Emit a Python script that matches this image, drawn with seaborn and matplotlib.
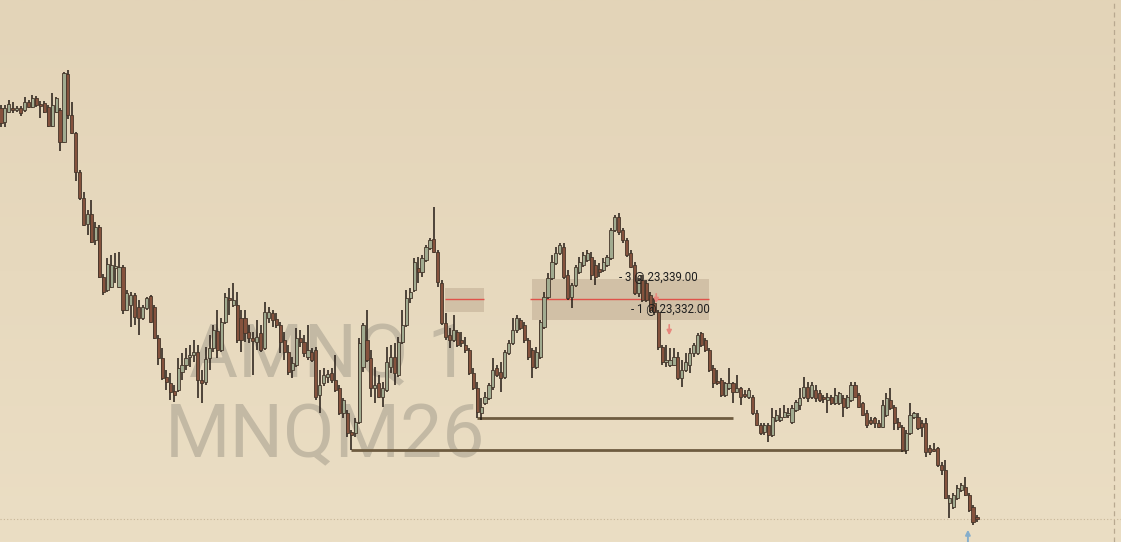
import numpy as np
import pandas as pd
import seaborn as sns
import matplotlib.pyplot as plt
from matplotlib.colors import LinearSegmentedColormap

# 1 minute bars, MNQ
opens = [23373.4, 23370.6, 23372.6, 23373.4, 23373.0, 23373.4, 23373.0, 23374.6, 23373.6, 23375.4,
         23374.2, 23374.4, 23373.6, 23369.8, 23372.6, 23373.0, 23366.6, 23380.2, 23372.0, 23368.4,
         23360.6, 23355.4, 23350.2, 23352.2, 23347.0, 23349.6, 23339.6, 23337.0, 23337.6, 23341.4,
         23337.6, 23341.6, 23333.0, 23334.0, 23336.0, 23333.6, 23331.4, 23333.4, 23335.8, 23333.6,
         23327.4, 23323.4, 23319.6, 23318.4, 23316.8, 23317.0, 23320.6, 23322.0, 23323.6, 23324.0,
         23324.6, 23319.0, 23318.6, 23323.4, 23325.4, 23328.8, 23325.0, 23330.6, 23335.4, 23334.0,
         23334.0, 23331.4, 23331.4, 23328.6, 23327.4, 23326.6, 23328.4, 23325.4, 23331.4, 23332.4,
         23331.2, 23330.0, 23327.0, 23324.6, 23321.0, 23322.0, 23327.4, 23326.6, 23323.6, 23324.6,
         23325.0, 23316.0, 23318.4, 23319.6, 23320.4, 23319.0, 23317.4, 23312.4, 23312.4, 23308.6,
         23308.4, 23310.6, 23321.6, 23327.0, 23323.4, 23317.4, 23318.4, 23315.6, 23317.0, 23321.6,
         23323.6, 23320.0, 23326.6, 23330.0, 23335.4, 23337.0, 23341.4, 23340.6, 23343.0, 23345.4,
         23347.2, 23344.6, 23338.4, 23330.4, 23328.0, 23327.0, 23328.6, 23327.0, 23326.0, 23325.0,
         23320.4, 23317.4, 23312.4, 23314.4, 23315.4, 23317.6, 23321.4, 23320.6, 23319.6, 23324.4,
         23326.4, 23329.0, 23331.0, 23330.0, 23327.0, 23325.0, 23321.6, 23323.6, 23329.6, 23335.6,
         23339.4, 23342.4, 23344.4, 23345.6, 23340.0, 23335.6, 23338.0, 23340.6, 23342.0, 23343.0,
         23343.6, 23342.0, 23341.2, 23341.0, 23342.0, 23343.4, 23349.0, 23351.6, 23349.0, 23347.0,
         23344.4, 23342.0, 23336.4, 23339.0, 23338.4, 23336.0, 23334.4, 23332.6, 23325.6, 23322.6,
         23322.0, 23322.0, 23323.6, 23319.4, 23321.0, 23322.0, 23324.4, 23324.4, 23328.4, 23327.0,
         23325.0, 23321.4, 23318.6, 23319.0, 23316.0, 23317.4, 23318.4, 23316.6, 23317.4, 23316.0,
         23315.6, 23315.6, 23312.4, 23310.0, 23308.6, 23310.0, 23308.0, 23311.0, 23311.0, 23311.6,
         23312.0, 23310.6, 23313.0, 23314.0, 23315.6, 23317.6, 23315.6, 23317.0, 23316.4, 23315.4,
         23315.0, 23315.6, 23314.4, 23314.4, 23315.4, 23313.6, 23315.0, 23318.0, 23316.0, 23314.4,
         23312.4, 23311.0, 23311.4, 23310.4, 23309.6, 23312.0, 23315.0, 23313.6, 23310.6, 23309.6,
         23305.0, 23308.4, 23311.6, 23311.6, 23310.4, 23310.4, 23305.4, 23305.0, 23305.4, 23302.0,
         23301.0, 23294.4, 23293.6, 23295.4, 23297.0, 23297.6, 23296.0, 23293.6, 23291.6]

highs = [23374.0, 23374.0, 23375.0, 23374.6, 23373.8, 23373.8, 23375.6, 23375.0, 23376.0, 23375.8,
         23374.8, 23374.8, 23374.0, 23376.4, 23375.6, 23373.4, 23380.6, 23381.0, 23374.6, 23368.6,
         23361.0, 23356.6, 23353.0, 23355.0, 23350.6, 23350.0, 23340.2, 23343.4, 23344.0, 23344.4,
         23344.6, 23342.0, 23337.0, 23336.6, 23336.4, 23335.0, 23334.0, 23335.6, 23336.0, 23334.0,
         23328.0, 23325.4, 23321.0, 23320.4, 23318.0, 23323.4, 23324.4, 23325.4, 23326.0, 23327.0,
         23326.0, 23321.0, 23325.6, 23328.0, 23330.0, 23333.0, 23331.4, 23336.4, 23337.4, 23338.4,
         23336.6, 23333.0, 23333.0, 23330.0, 23328.6, 23331.0, 23330.0, 23334.6, 23333.6, 23333.0,
         23332.4, 23330.6, 23328.6, 23326.0, 23323.6, 23329.4, 23329.0, 23328.0, 23330.0, 23325.4,
         23325.6, 23321.0, 23321.4, 23321.0, 23321.4, 23324.0, 23318.0, 23315.4, 23313.0, 23309.0,
         23311.4, 23327.4, 23330.4, 23333.0, 23325.0, 23321.6, 23320.0, 23318.6, 23325.6, 23326.0,
         23326.4, 23327.6, 23333.0, 23337.0, 23337.4, 23343.4, 23343.6, 23344.0, 23346.0, 23347.4,
         23353.6, 23345.0, 23339.0, 23332.4, 23329.4, 23332.0, 23329.0, 23328.6, 23327.6, 23325.4,
         23321.4, 23318.6, 23315.4, 23316.6, 23318.4, 23323.4, 23322.0, 23322.6, 23325.0, 23327.0,
         23331.4, 23332.0, 23331.4, 23330.6, 23327.4, 23325.4, 23325.6, 23331.0, 23336.6, 23340.4,
         23344.0, 23345.6, 23346.4, 23346.4, 23341.0, 23338.4, 23342.0, 23343.6, 23344.6, 23345.0,
         23344.6, 23343.0, 23342.4, 23343.4, 23344.0, 23349.4, 23352.0, 23352.4, 23349.4, 23347.4,
         23345.0, 23342.6, 23339.4, 23340.0, 23339.0, 23336.6, 23335.4, 23333.0, 23326.0, 23326.0,
         23325.4, 23325.4, 23324.6, 23323.0, 23324.4, 23325.4, 23326.4, 23328.4, 23328.6, 23327.4,
         23325.4, 23322.0, 23321.0, 23319.4, 23318.6, 23321.4, 23318.6, 23320.0, 23317.6, 23317.0,
         23317.4, 23316.0, 23313.0, 23310.4, 23310.4, 23310.4, 23313.4, 23313.0, 23313.4, 23314.0,
         23313.4, 23314.0, 23315.0, 23317.4, 23319.6, 23318.6, 23318.6, 23318.0, 23317.0, 23316.0,
         23316.4, 23316.0, 23317.4, 23316.6, 23316.0, 23316.0, 23318.6, 23318.6, 23316.4, 23314.6,
         23313.0, 23311.6, 23311.6, 23311.0, 23315.0, 23316.4, 23317.4, 23314.0, 23311.4, 23310.0,
         23309.0, 23314.4, 23312.6, 23312.4, 23311.0, 23311.4, 23306.0, 23306.4, 23305.6, 23302.6,
         23303.0, 23296.0, 23296.4, 23298.0, 23298.4, 23299.6, 23296.4, 23294.0, 23292.0]

lows = [23369.6, 23369.6, 23372.4, 23372.4, 23372.6, 23371.8, 23372.6, 23373.4, 23373.4, 23373.6,
        23371.4, 23372.4, 23369.6, 23369.6, 23372.4, 23364.8, 23366.4, 23371.2, 23368.2, 23358.8,
        23355.0, 23349.8, 23348.0, 23346.4, 23346.0, 23339.4, 23336.0, 23336.6, 23337.4, 23338.4,
        23337.4, 23332.2, 23332.8, 23329.6, 23330.0, 23328.0, 23331.0, 23333.0, 23330.4, 23327.2,
        23322.0, 23319.0, 23317.0, 23315.0, 23314.6, 23316.6, 23319.0, 23321.0, 23321.6, 23322.6,
        23315.4, 23314.4, 23318.0, 23321.0, 23324.6, 23323.4, 23324.6, 23330.2, 23332.0, 23333.6,
        23326.4, 23324.6, 23326.6, 23326.4, 23320.0, 23325.0, 23324.6, 23325.0, 23330.4, 23329.6,
        23329.4, 23324.4, 23323.0, 23320.0, 23319.4, 23321.6, 23325.6, 23323.6, 23323.0, 23322.6,
        23315.0, 23312.4, 23317.8, 23318.4, 23318.4, 23316.6, 23312.0, 23311.4, 23307.6, 23305.0,
        23307.6, 23310.2, 23320.6, 23322.6, 23315.6, 23314.4, 23315.4, 23313.6, 23316.6, 23320.4,
        23318.0, 23319.6, 23326.2, 23329.6, 23334.4, 23336.6, 23338.4, 23339.6, 23342.6, 23345.0,
        23344.4, 23337.6, 23330.0, 23327.0, 23325.4, 23326.6, 23325.6, 23325.6, 23324.4, 23320.0,
        23317.0, 23311.4, 23311.0, 23314.0, 23315.0, 23317.0, 23319.6, 23316.6, 23319.2, 23324.0,
        23326.0, 23328.4, 23329.0, 23326.4, 23323.0, 23319.4, 23321.2, 23323.2, 23329.2, 23335.2,
        23339.0, 23342.0, 23344.0, 23339.2, 23335.0, 23333.4, 23337.6, 23340.2, 23341.6, 23342.6,
        23339.0, 23338.0, 23339.6, 23340.6, 23341.6, 23343.0, 23348.6, 23348.0, 23346.4, 23343.6,
        23341.4, 23336.0, 23335.6, 23334.6, 23334.6, 23332.6, 23332.0, 23325.0, 23322.0, 23321.6,
        23321.6, 23321.8, 23319.0, 23317.6, 23320.6, 23320.4, 23323.6, 23324.0, 23325.6, 23324.6,
        23320.6, 23317.4, 23318.0, 23315.6, 23315.6, 23317.0, 23314.4, 23316.4, 23314.0, 23315.4,
        23315.2, 23312.0, 23309.8, 23308.0, 23308.0, 23306.6, 23307.6, 23310.6, 23310.6, 23311.4,
        23311.4, 23310.2, 23312.6, 23313.0, 23315.2, 23314.6, 23315.2, 23314.6, 23314.6, 23314.4,
        23312.4, 23314.0, 23314.0, 23314.0, 23311.6, 23313.2, 23314.6, 23315.4, 23313.4, 23311.8,
        23309.4, 23310.0, 23309.4, 23309.4, 23309.4, 23311.6, 23313.0, 23309.0, 23309.0, 23304.6,
        23304.2, 23308.0, 23311.2, 23309.0, 23307.6, 23303.6, 23304.0, 23304.6, 23301.6, 23300.0,
        23295.2, 23291.4, 23293.2, 23295.0, 23296.6, 23295.8, 23292.6, 23290.0, 23290.6]

closes = [23370.4, 23373.4, 23374.2, 23373.0, 23373.4, 23372.4, 23374.6, 23373.6, 23375.4, 23374.0,
          23373.8, 23372.6, 23369.8, 23374.0, 23375.4, 23366.6, 23380.4, 23372.0, 23368.4, 23360.6,
          23355.4, 23350.0, 23352.2, 23346.6, 23349.6, 23339.6, 23336.6, 23342.2, 23342.0, 23341.6,
          23341.6, 23333.0, 23336.4, 23336.0, 23331.6, 23331.4, 23333.6, 23335.4, 23330.6, 23327.4,
          23323.4, 23319.4, 23318.6, 23316.6, 23316.0, 23321.4, 23322.0, 23323.4, 23323.8, 23324.6,
          23319.0, 23318.4, 23323.2, 23325.4, 23329.0, 23325.0, 23330.6, 23335.6, 23335.0, 23335.0,
          23327.0, 23327.0, 23328.4, 23327.4, 23326.8, 23327.6, 23325.0, 23332.6, 23332.6, 23331.0,
          23330.0, 23326.6, 23324.6, 23320.6, 23322.4, 23327.4, 23326.6, 23324.4, 23325.0, 23323.0,
          23315.6, 23318.0, 23320.0, 23320.2, 23319.0, 23317.0, 23312.4, 23315.0, 23308.4, 23308.0,
          23310.6, 23326.4, 23330.0, 23323.0, 23317.4, 23318.0, 23315.6, 23317.4, 23322.6, 23323.6,
          23320.4, 23326.6, 23330.0, 23335.4, 23336.6, 23342.6, 23340.6, 23343.4, 23345.6, 23347.0,
          23344.6, 23338.6, 23330.4, 23327.6, 23327.0, 23329.0, 23326.0, 23326.4, 23325.0, 23320.4,
          23317.4, 23312.6, 23313.6, 23315.6, 23318.0, 23321.0, 23320.0, 23319.4, 23324.6, 23326.4,
          23329.0, 23331.4, 23329.4, 23327.0, 23323.6, 23321.6, 23324.6, 23330.6, 23335.6, 23339.4,
          23342.6, 23344.4, 23346.0, 23339.6, 23335.4, 23338.0, 23341.6, 23342.6, 23344.0, 23344.4,
          23340.0, 23339.6, 23340.6, 23342.6, 23343.6, 23349.0, 23351.6, 23348.6, 23347.0, 23344.0,
          23341.6, 23336.4, 23339.0, 23335.0, 23335.0, 23333.0, 23332.6, 23325.6, 23322.6, 23323.0,
          23323.0, 23323.6, 23319.4, 23321.0, 23322.6, 23324.4, 23326.0, 23328.0, 23326.0, 23325.0,
          23321.0, 23318.4, 23318.4, 23316.0, 23318.4, 23318.4, 23316.6, 23317.4, 23315.6, 23315.8,
          23317.0, 23312.4, 23310.0, 23308.4, 23310.0, 23308.0, 23311.6, 23312.0, 23311.6, 23312.6,
          23312.4, 23313.4, 23314.6, 23315.4, 23317.6, 23315.4, 23318.0, 23315.4, 23315.0, 23315.2,
          23315.6, 23314.4, 23316.0, 23316.4, 23313.6, 23315.6, 23318.0, 23315.6, 23313.6, 23312.0,
          23310.0, 23310.4, 23310.4, 23309.6, 23314.0, 23315.4, 23313.4, 23310.4, 23309.6, 23305.0,
          23308.4, 23312.0, 23312.4, 23309.4, 23309.6, 23304.6, 23304.6, 23304.8, 23302.0, 23301.0,
          23295.4, 23295.4, 23296.0, 23297.4, 23298.0, 23296.0, 23293.0, 23290.6, 23291.2]

symbol = "MNQM26"
watermark_top = "AMNQ 1"
last_price = 23291.2

# horizontal levels drawn from swing lows
level_prices = [23305.0, 23311.4]
level_from = [89, 121]
level_to = [230, 186]

# working orders
order_line = 23335.2
zone_low = [23332.6, 23331.0]
zone_high = [23337.4, 23339.2]
zone_from = [112.8, 134.9]
zone_to = [122.7, 179.9]
order_labels = ["- 3 @ 23,339.00", "- 1 @ 23,332.00"]
order_label_prices = [23339.6, 23333.0]
order_label_bars = [157.0, 160.1]
fill_bars = [166.5, 169.8]
fill_top = [23336.8, 23330.6]
fill_bottom = [23333.8, 23327.4]

df = pd.DataFrame({"open": opens, "high": highs, "low": lows, "close": closes})
df["bar"] = np.arange(len(df))
df["high"] = np.maximum(df["high"], df[["open", "close"]].max(axis=1))
df["low"] = np.minimum(df["low"], df[["open", "close"]].min(axis=1))
df["up"] = df["close"] >= df["open"]

sns.set_theme(style="white")
plt.rcParams["font.family"] = ["Roboto", "DejaVu Sans"]

fig = plt.figure(figsize=(11.21, 5.42), dpi=100)
ax = fig.add_axes([0, 0, 1, 1])

# background gradient
bg = LinearSegmentedColormap.from_list("bg", ["#E3D4B8", "#EBDEC4"])
ax.imshow(np.linspace(0, 1, 256).reshape(-1, 1), cmap=bg, aspect="auto",
          extent=[0, 1, 0, 1], transform=ax.transAxes, zorder=0)

# watermark
wm = dict(transform=ax.transAxes, fontsize=54, color="#C3B9A4", ha="left",
          va="baseline", zorder=1)
ax.text(0.147, 0.157, symbol, **wm)
ax.text(0.169, 0.303, watermark_top, **wm)

# order zones
for lo, hi, a, b in zip(zone_low, zone_high, zone_from, zone_to):
    ax.fill_between([a, b], lo, hi, color="#A8937A", alpha=0.35, lw=0, zorder=2)
ax.hlines(order_line, zone_from[0], zone_to[0], color="#E0524A", lw=1, zorder=2)
ax.hlines(order_line, zone_from[1] - 0.5, zone_to[1], color="#E0524A", lw=1, zorder=2)

# levels
for p, a, b in zip(level_prices, level_from, level_to):
    ax.hlines(p, a, b, color="#6E5C40", lw=2, zorder=3)

# last price line and right margin marker
ax.axhline(last_price, color="#C7B596", lw=0.8, ls=(0, (1, 2)), zorder=1)
ax.axvline(282.9, color="#B8A890", lw=0.9, ls=(0, (4, 3)), zorder=1)

# candles
ax.vlines(df["bar"], df["low"], df["high"], color="#241B15", lw=1.1, zorder=4)
body_lo = df[["open", "close"]].min(axis=1)
body_h = (df["close"] - df["open"]).abs().clip(lower=0.4)
colors = np.where(df["up"], "#A1AB90", "#85523D")
ax.bar(df["bar"], body_h, bottom=body_lo, width=0.8, color=colors,
       edgecolor="#45362A", linewidth=0.6, zorder=5)

# order labels and fill arrows
for lab, p, b in zip(order_labels, order_label_prices, order_label_bars):
    ax.text(b, p, lab, fontsize=8.3, color="#1E1E1E", ha="left", va="center", zorder=6)
for b, t, bt in zip(fill_bars, fill_top, fill_bottom):
    ax.annotate("", xy=(b, bt), xytext=(b, t), zorder=7,
                arrowprops=dict(arrowstyle="-|>", color="#E8877D", lw=1.2, mutation_scale=7))
ax.annotate("", xy=(245.7, 23289.6), xytext=(245.7, 23286.0), zorder=7,
            arrowprops=dict(arrowstyle="-|>", color="#86AECB", lw=1.4, mutation_scale=7))

ax.set_xlim(-0.25, 284.6)
ax.set_ylim(23286.6, 23395.0)
ax.set_axis_off()

fig.savefig("out.png", dpi=100)
